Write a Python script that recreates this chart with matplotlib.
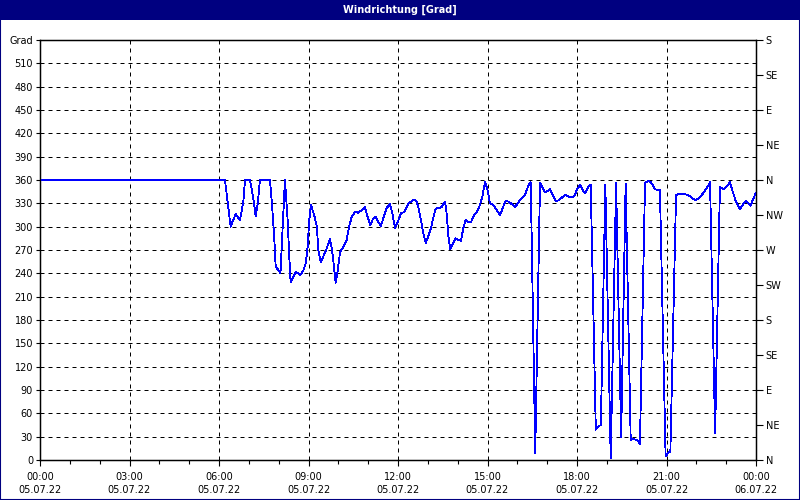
import matplotlib

matplotlib.use("Agg")
import matplotlib.pyplot as plt
from matplotlib.patches import Rectangle
from matplotlib.ticker import MultipleLocator

# Stunden seit 05.07.22 00:00 und Windrichtung in Grad
hours = [
    0.0, 6.20, 6.39, 6.48, 6.56, 6.63, 6.70, 6.76, 6.82, 6.87, 7.04, 7.12, 7.18, 7.23, 7.30,
    7.37, 7.71, 7.79, 7.85, 7.90, 7.99, 8.06, 8.12, 8.21, 8.30, 8.35, 8.40, 8.49, 8.57,
    8.66, 8.73, 8.83, 8.91, 8.97, 9.02, 9.08, 9.19, 9.28, 9.33, 9.41, 9.50, 9.61, 9.72,
    9.78, 9.83, 9.91, 9.98, 10.06, 10.17, 10.28, 10.36, 10.45, 10.56, 10.67, 10.78, 10.89,
    10.98, 11.07, 11.15, 11.25, 11.34, 11.43, 11.54, 11.62, 11.73, 11.81, 11.90, 11.99,
    12.10, 12.21, 12.35, 12.46, 12.57, 12.63, 12.70, 12.79, 12.85, 12.93, 13.02, 13.11,
    13.18, 13.26, 13.35, 13.47, 13.52, 13.58, 13.63, 13.69, 13.75, 13.85, 13.93, 14.02,
    14.11, 14.19, 14.27, 14.36, 14.45, 14.52, 14.64, 14.75, 14.83, 14.92, 15.01, 15.08,
    15.19, 15.31, 15.42, 15.53, 15.61, 15.72, 15.81, 15.92, 16.03, 16.15, 16.26, 16.37,
    16.45, 16.60, 16.76, 16.84, 16.93, 17.02, 17.10, 17.19, 17.29, 17.40, 17.51, 17.60,
    17.69, 17.80, 17.91, 17.99, 18.10, 18.19, 18.27, 18.38, 18.46, 18.63, 18.71, 18.80,
    18.95, 19.13, 19.31, 19.48, 19.63, 19.80, 19.89, 20.04, 20.11, 20.28, 20.39, 20.48,
    20.62, 20.73, 20.78, 20.97, 21.06, 21.13, 21.32, 21.45, 21.62, 21.79, 21.96, 22.07,
    22.23, 22.37, 22.46, 22.63, 22.79, 22.90, 23.02, 23.13, 23.22, 23.33, 23.46, 23.55,
    23.65, 23.74, 23.82, 23.91, 23.99,
]
degrees = [
    360, 360, 300, 309, 316, 312, 308, 320, 334, 360, 360, 343, 328, 313, 330,
    360, 360, 321, 287, 249, 244, 240, 287, 360, 309, 266, 229, 236, 242,
    240, 238, 244, 253, 274, 306, 328, 315, 300, 270, 254, 262, 272, 284,
    272, 257, 228, 244, 268, 274, 283, 300, 313, 319, 318, 321, 325,
    313, 302, 309, 313, 306, 301, 315, 324, 329, 317, 298, 306,
    317, 319, 330, 333, 335, 332, 322, 304, 291, 279, 288, 299,
    311, 323, 324, 325, 330, 332, 317, 287, 271, 279, 285, 283,
    282, 298, 309, 306, 306, 313, 319, 328, 339, 358, 346, 330,
    328, 321, 315, 326, 333, 332, 329, 325, 331, 337, 341, 353,
    357, 9, 356, 351, 344, 346, 348, 341, 333, 334, 338, 341,
    339, 338, 339, 347, 354, 347, 343, 351, 354, 39, 43, 45,
    354, 2, 356, 30, 355, 26, 27, 25, 21, 356, 359, 357,
    348, 347, 347, 5, 9, 11, 341, 342, 342, 339, 334, 336,
    343, 351, 357, 34, 351, 348, 352, 357, 345, 332, 322, 328,
    333, 330, 327, 336, 343,
]

y_ticks = list(range(0, 541, 30))
y_labels = [str(v) for v in y_ticks[:-1]] + ["Grad"]
compass_ticks = list(range(0, 541, 45))
compass_labels = ["N", "NE", "E", "SE", "S", "SW", "W", "NW", "N", "NE", "E", "SE", "S"]
x_ticks = list(range(0, 25, 3))
time_labels = ["00:00", "03:00", "06:00", "09:00", "12:00", "15:00", "18:00", "21:00", "00:00"]
date_labels = ["05.07.22"] * 8 + ["06.07.22"]

NAVY = "#000080"
FONT = 7

fig = plt.figure(figsize=(8, 5), dpi=100)
fig.patch.set_facecolor("white")

# Titelleiste und Rahmen
fig.patches.append(
    Rectangle((0, 0.96), 1, 0.04, transform=fig.transFigure, facecolor=NAVY, edgecolor="none", zorder=0)
)
fig.patches.append(
    Rectangle((0, 0), 1, 1, transform=fig.transFigure, facecolor="none", edgecolor=NAVY, linewidth=1.5, zorder=5)
)
fig.text(0.5, 0.981, "Windrichtung [Grad]", color="white", fontsize=FONT, fontweight="bold",
         ha="center", va="center")

ax = fig.add_axes([0.05, 0.08, 0.895, 0.84])
ax.plot(hours, degrees, color="#0000ff", linewidth=0.6, antialiased=False, zorder=3)

ax.set_xlim(0, 24)
ax.set_ylim(0, 540)
ax.set_yticks(y_ticks)
ax.set_yticklabels(y_labels, fontsize=FONT)
ax.set_xticks(x_ticks)
ax.set_xticklabels([f"{t}\n{d}" for t, d in zip(time_labels, date_labels)], fontsize=FONT, linespacing=1.3)
ax.xaxis.set_minor_locator(MultipleLocator(1))
ax.tick_params(axis="x", which="major", length=4, width=0.8, pad=5)
ax.tick_params(axis="x", which="minor", length=3, width=0.8)
ax.tick_params(axis="y", length=3, width=0.8, pad=2)
ax.grid(True, which="major", color="black", linestyle=(0, (4, 4)), linewidth=0.72)
for spine in ax.spines.values():
    spine.set_color("black")
    spine.set_linewidth(1.0)

ax2 = ax.twinx()
ax2.set_ylim(0, 540)
ax2.set_yticks(compass_ticks)
ax2.set_yticklabels(compass_labels, fontsize=FONT)
ax2.tick_params(axis="y", length=5, width=0.8, pad=2)

fig.savefig("out.png", dpi=100)
